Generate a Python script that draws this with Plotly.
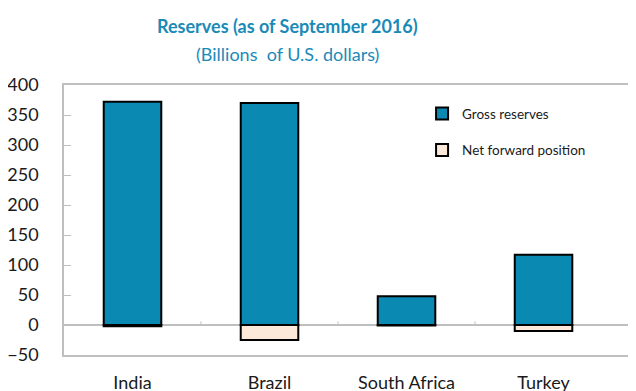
import plotly.graph_objects as go

# reserves, billions of US dollars, as of September 2016
countries       = ["India", "Brazil", "South Africa", "Turkey"]
gross_reserves  = [372, 370, 48, 117]
net_forward     = [-2, -25, -1, -10]
y_ticks         = [-50, 0, 50, 100, 150, 200, 250, 300, 350, 400]

TEAL    = "#0a8ab2"
PEACH   = "#fde9d9"
GREY    = "#bfbfbf"
FONT    = "Lato"

fig = go.Figure()
fig.add_trace(go.Bar(x=countries, y=gross_reserves, name="Gross reserves", legendgroup="g",
                     marker=dict(color=TEAL, line=dict(color="black", width=2)), width=0.42))
fig.add_trace(go.Bar(x=countries, y=net_forward, name="Net forward position", legendgroup="n",
                     marker=dict(color=PEACH, line=dict(color="black", width=2)), width=0.42))

# small ticks on the zero line between categories
for i in range(len(countries) - 1):
    fig.add_shape(type="line", xref="x", yref="y", x0=i + 0.5, x1=i + 0.5, y0=0, y1=6,
                  line=dict(color=GREY, width=1))

# page body has an 8px margin, so the figure is sized to the visible window
fig.update_layout(
    width=628, height=383,
    margin=dict(l=56, r=0, t=77, b=36),
    barmode="relative",
    plot_bgcolor="white", paper_bgcolor="white",
    font=dict(family=FONT, color="#1a1a1a"),
    showlegend=True,
    legend=dict(x=0.626, y=0.951, xanchor="left", yanchor="top", tracegroupgap=16,
                font=dict(size=13.5, family=FONT, color="#1a1a1a"), bgcolor="rgba(0,0,0,0)"),
    annotations=[
        dict(text="<b>Reserves (as of September 2016)</b>", xref="paper", yref="paper",
             x=(279 - 56) / 572, y=1, yanchor="middle", yshift=59, showarrow=False,
             font=dict(size=18, color="#1a8ab8", family=FONT)),
        dict(text="(Billions  of U.S. dollars)", xref="paper", yref="paper",
             x=(279 - 56) / 572, y=1, yanchor="middle", yshift=31, showarrow=False,
             font=dict(size=18, color="#1a8ab8", family=FONT)),
    ],
)
fig.update_xaxes(range=[-0.5, 3.675], showline=True, mirror=True, linecolor=GREY, linewidth=1.5,
                 ticks="", tickfont=dict(size=18), ticklabelstandoff=11, showgrid=False,
                 automargin=False)
fig.update_yaxes(range=[-50, 400], tickvals=y_ticks, showline=True, linecolor=GREY, linewidth=1.5,
                 ticks="inside", ticklen=7, tickcolor=GREY, tickfont=dict(size=18),
                 ticklabelstandoff=20, showgrid=False, zeroline=True, zerolinecolor=GREY,
                 zerolinewidth=1.5, automargin=False)

fig.write_html("out.html")
